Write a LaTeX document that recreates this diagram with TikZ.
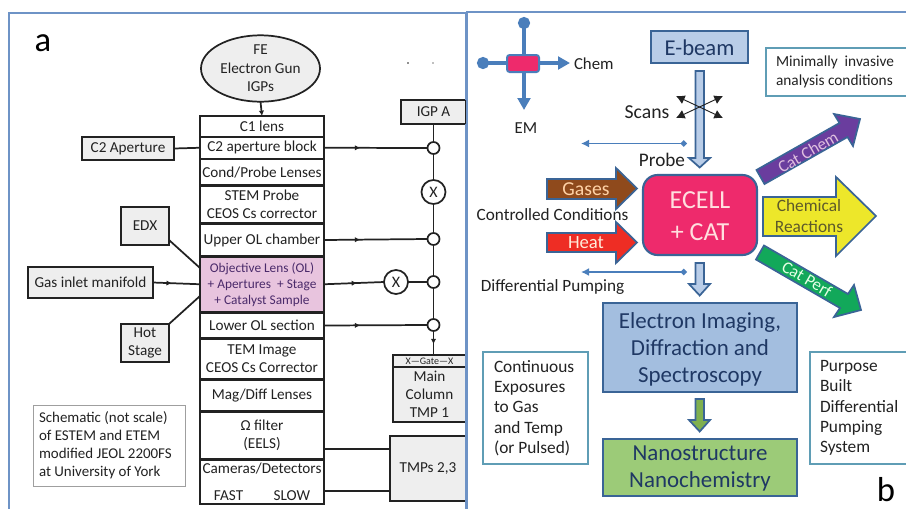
\documentclass[tikz,border=0pt]{standalone}
\usepackage{fontspec}
\setmainfont{Carlito}
\usetikzlibrary{arrows.meta,shapes.geometric,decorations.markings}
\definecolor{panelblue}{HTML}{6E93C6}
\definecolor{ink}{HTML}{222222}
\definecolor{boxgray}{HTML}{EEEEEE}
\definecolor{olpink}{HTML}{E8C4DE}
\definecolor{oltext}{HTML}{4A2A6A}
\definecolor{legblue}{HTML}{4A7EBB}
\definecolor{edgeblue}{HTML}{3A6496}
\definecolor{navy}{HTML}{1F3864}
\definecolor{cellpink}{HTML}{EE2A6C}
\definecolor{beamfill}{HTML}{B9CDE8}
\definecolor{imgfill}{HTML}{A3BEDF}
\definecolor{nanofill}{HTML}{9CCB78}
\definecolor{arrowgreen}{HTML}{7FB04F}
\definecolor{brownfill}{HTML}{8F4A1C}
\definecolor{redfill}{HTML}{EE2D24}
\definecolor{purplefill}{HTML}{6A3D9E}
\definecolor{yellowfill}{HTML}{EDE72A}
\definecolor{greenfill}{HTML}{12A85A}
\definecolor{notecol}{HTML}{5F9DB5}
\newcommand{\pxbox}[6]{\node[#1,minimum width={(#4-#2)*0.75pt},minimum height={(#5-#3)*0.75pt},anchor=north west] (#6) at (#2,#3)}
\newcommand{\pxnote}[7]{\node[#1,text width={(#4-#2-2*#7)*0.75pt},inner xsep={#7*0.75pt},minimum height={(#5-#3)*0.75pt},anchor=north west] (#6) at (#2,#3)}
\tikzset{
  x=0.75pt,y=-0.75pt,
  base/.style={inner sep=0pt,outer sep=0pt,align=center,text=ink,font=\fontsize{11.4}{13.6}\selectfont},
  stackbox/.style={base,draw=ink,line width=1.3pt,fill=white},
  greybox/.style={base,draw=ink,line width=1.3pt,fill=boxgray},
  olbox/.style={base,draw=ink,line width=1.9pt,fill=olpink,text=oltext,font=\fontsize{10}{12}\selectfont},
  wire/.style={draw=ink,line width=1.3pt},
  valve/.style={circle,draw=ink,line width=1.3pt,fill=white,minimum size=12*0.75pt,inner sep=0pt,outer sep=0pt},
  xvalve/.style={circle,draw=ink,line width=1.3pt,fill=white,minimum size=24*0.75pt,inner sep=0pt,outer sep=0pt,text=ink,font=\fontsize{12}{13}\selectfont},
  flowmark/.style={postaction={decorate},decoration={markings,mark=at position #1 with {\arrow{Latex[length=4pt,width=4pt]}}}},
  panel/.style={draw=panelblue,line width=1.2pt},
  plain/.style={inner sep=0pt,outer sep=0pt,text=ink,align=center,font=\fontsize{13}{15}\selectfont},
  legendline/.style={draw=legblue,line width=3pt},
  pumpline/.style={draw=legblue,line width=1.4pt},
  blockarrow/.style={draw=edgeblue,line width=1.3pt,line join=miter},
  notebox/.style={base,draw=notecol,line width=0.9pt,fill=white,align=flush left},
  mainbox/.style={base,draw=edgeblue,line width=1.5pt},
  maintext/.style={plain,text=navy,font=\fontsize{17.2}{20.5}\selectfont},
  scanline/.style={draw=ink,line width=0.7pt,{Latex[length=6.5pt,width=7pt]}-{Latex[length=6.5pt,width=7pt]}},
}
\begin{document}
\begin{tikzpicture}
\clip (0,0) rectangle (906,508);
\fill[white] (0,0) rectangle (906,508);
\node[plain,font=\fontsize{26}{28}\selectfont,text=black] (lblA) at (43,43) {a};
\node[plain,font=\fontsize{26}{28}\selectfont,text=black] (lblB) at (886,490) {b};
% ---- panel a
\node[ellipse,base,draw=ink,line width=1.3pt,fill=boxgray,minimum width=119*0.75pt,minimum height=55*0.75pt,font=\fontsize{11.4}{13.9}\selectfont] (gun) at (260.5,68.5) {FE\\Electron Gun\\IGPs};
\pxbox{stackbox}{200}{116}{324}{137}{cone}{C1 lens};
\pxbox{stackbox}{200}{137}{324}{158.5}{ctwo}{C2 aperture block};
\pxbox{stackbox}{200}{159.5}{324}{185}{cond}{Cond/Probe Lenses};
\pxbox{stackbox}{200}{186}{324}{223}{stem}{STEM Probe\\CEOS Cs corrector};
\pxbox{stackbox}{200}{224}{324}{256}{upper}{Upper OL chamber};
\pxbox{stackbox}{200}{313}{324}{338}{lower}{Lower OL section};
\pxbox{stackbox}{200}{339}{324}{378.5}{tem}{TEM Image\\CEOS Cs Corrector};
\pxbox{stackbox}{200}{380}{324}{411}{mag}{Mag/Diff Lenses};
\pxbox{stackbox}{200}{412}{324}{459}{omega}{Ω filter\\(EELS)};
\pxbox{stackbox}{200}{460}{324}{504}{cam}{Cameras/Detectors\\[7pt]FAST\hspace{2em}SLOW};
\pxbox{olbox}{200}{256.5}{324}{312}{ol}{Objective Lens (OL)\\+ Apertures\ \ + Stage\\+ Catalyst Sample};
\pxbox{greybox}{82}{137}{174}{160}{ctwoap}{C2 Aperture};
\pxbox{greybox}{121}{207}{169}{245}{edx}{EDX};
\pxbox{greybox}{28}{267}{153}{298}{gas}{Gas inlet manifold};
\pxbox{greybox}{121}{324}{169}{362}{hot}{Hot\\Stage};
\pxbox{greybox}{401}{100}{466}{124}{igp}{IGP A};
\pxbox{greybox}{393}{355}{466}{367}{gate}{\fontsize{7.5}{8}\selectfont X---Gate---X};
\pxbox{greybox}{393}{367}{466}{422}{tmpa}{Main\\Column\\TMP 1};
\pxbox{greybox}{390}{436}{466}{501}{tmpb}{TMPs 2,3};
\pxnote{base,align=flush left,draw=gray!75,line width=0.7pt,fill=white,font=\fontsize{11.2}{13.5}\selectfont}{33}{405}{185}{486}{note}{6}{Schematic (not scale)\\of ESTEM and ETEM\\modified JEOL 2200FS\\at University of York};
\node[valve] (va) at (433.5,148) {};
\node[xvalve] (vx) at (433.5,192) {X};
\node[valve] (vb) at (433.5,239) {};
\node[valve] (vc) at (433.5,282) {};
\node[valve] (vd) at (433.5,325) {};
\node[xvalve] (vy) at (396,282) {X};
\draw[wire,-{Latex[length=4pt,width=4pt]}] (gun.south) -- (cone.north);
\draw[wire] (ctwoap.east) -- (ctwo.west);
\draw[wire] (igp.south -| va) -- (va.north);
\draw[wire] (va.south) -- (vx.north);
\draw[wire] (vx.south) -- (vb.north);
\draw[wire] (vb.south) -- (vc.north);
\draw[wire] (vc.south) -- (vd.north);
\draw[wire,flowmark=0.55] (vd.south) -- (gate.north -| vd);
\draw[wire,flowmark=0.35] (ctwo.east) -- (va.west);
\draw[wire,flowmark=0.35] (upper.east) -- (vb.west);
\draw[wire,flowmark=0.55] (ol.east) -- (vy.west);
\draw[wire] (vy.east) -- (vc.west);
\draw[wire,flowmark=0.35] (lower.east) -- (vd.west);
\draw[wire,flowmark=0.4] (gas.east) -- (ol.west);
\coordinate (edxa) at (169,240);
\coordinate (ola) at (200,268);
\coordinate (olb) at (200,296);
\draw[wire] (edxa) -- (ola);
\draw[wire] (hot.north east) -- (olb);
\coordinate (omegaout) at (324,449);
\coordinate (camout) at (324,491);
\draw[wire] (omegaout) -- (tmpb.west |- omegaout);
\draw[wire] (camout) -- (tmpb.west |- camout);
\fill[ink] (408,63) circle (0.8);
\fill[gray] (433,63) circle (0.8);
% panels
\draw[panel] (9,520) -- (9,13) -- (466,13) -- (466,100);
\draw[panel] (466,124) -- (466,520);
\draw[panel] (467,520) -- (467,12) -- (910,12);
% ---- panel b legend
\coordinate (legT) at (524,17);
\coordinate (legL) at (477,63);
\coordinate (legB) at (524,110);
\coordinate (legR) at (570,63);
\draw[legendline,{Circle[length=9pt,width=9pt]}-{Triangle[length=9pt,width=9.5pt]}] (legT) -- (legB);
\draw[legendline,{Circle[length=9pt,width=9pt]}-{Triangle[length=9pt,width=9.5pt]}] (legL) -- (legR);
\pxbox{base,draw=legblue,line width=1.5pt,fill=cellpink,rounded corners=2pt}{507}{55}{539}{72}{reactor}{};
\node[plain,anchor=west,font=\fontsize{12.6}{14}\selectfont] (chem) at (574,63.5) {Chem};
\node[plain,font=\fontsize{12.6}{14}\selectfont] (em) at (526,128) {EM};
% beam
\pxbox{mainbox,line width=1.6pt,fill=beamfill}{651}{31}{748}{63}{ebeam}{};
\node[maintext,font=\fontsize{17}{21}\selectfont] (ebeamtext) at (699.5,48) {E-beam};
\draw[blockarrow,fill=beamfill] (695.5,71) -- (704,71) -- (704,158) -- (710,158) -- (699.7,167.5) -- (689,158) -- (695.5,158) -- cycle;
\coordinate (sa) at (676,96); \coordinate (sb) at (723,118); \coordinate (sc) at (676,118); \coordinate (sd) at (723,96);
\draw[scanline] (sa) -- (sb);
\draw[scanline] (sc) -- (sd);
\node[plain,font=\fontsize{14.8}{16}\selectfont] (scans) at (647,112) {Scans};
\node[plain,font=\fontsize{14.4}{16}\selectfont] (probe) at (662,160) {Probe};
\coordinate (pa) at (581,143.5); \coordinate (pb) at (687,143.5);
\draw[pumpline,{Latex[length=6pt,width=6pt]}-{Diamond[length=5pt,width=5pt]}] (pa) -- (pb);
\coordinate (pc) at (581,272); \coordinate (pd) at (687,272);
\draw[pumpline,{Latex[length=6pt,width=6pt]}-{Diamond[length=5pt,width=5pt]}] (pc) -- (pd);
% side inputs
\draw[blockarrow,fill=brownfill] (547,179) -- (616,179) -- (616,168) -- (637,188.5) -- (616,209) -- (616,199) -- (547,199) -- cycle;
\node[plain,text=orange!35!white,font=\fontsize{14.8}{16}\selectfont] (gases) at (586,189) {Gases};
\draw[blockarrow,fill=redfill] (547,233) -- (616,233) -- (616,222) -- (637,242.5) -- (616,263) -- (616,252) -- (547,252) -- cycle;
\node[plain,text=orange!15!white,font=\fontsize{14}{16}\selectfont] (heat) at (586,243) {Heat};
\node[plain,font=\fontsize{12.9}{14}\selectfont] (cond2) at (552.5,215) {Controlled Conditions};
\node[plain,font=\fontsize{12.9}{14}\selectfont] (diff) at (552.5,287) {Differential Pumping};
% output arrows
\draw[blockarrow,fill=purplefill] (756.5,170) -- (839.5,123) -- (834,114) -- (860,119) -- (853,146) -- (847.5,137) -- (764.5,184) -- cycle;
\node[plain,rotate=30,text=violet!25!white,font=\fontsize{12.7}{14}\selectfont] (catchem) at (808,152) {Cat Chem};
\draw[blockarrow,fill=yellowfill] (763,197) -- (836,197) -- (836,177) -- (876,216) -- (836,256) -- (836,236) -- (763,236) -- cycle;
\node[plain,text=olive!55!black,font=\fontsize{13}{15.2}\selectfont] (chemr) at (809,216) {Chemical\\Reactions};
\draw[blockarrow,fill=greenfill] (764,245.5) -- (848,294) -- (854,285) -- (861,310) -- (834,317) -- (840,308) -- (756,259.5) -- cycle;
\node[plain,rotate=-30,text=green!10!white,font=\fontsize{12.7}{14}\selectfont] (catperf) at (807,279) {Cat Perf};
% core
\pxbox{mainbox,line width=1.6pt,fill=cellpink,rounded corners=11pt}{643}{175}{757}{255}{ecell}{};
\node[plain,text=pink!50!white,font=\fontsize{19.5}{23.5}\selectfont] (ecelltext) at (700,216) {ECELL\\+ CAT};
\draw[blockarrow,fill=beamfill] (695.5,263) -- (704,263) -- (704,284) -- (710,284) -- (699.7,295.5) -- (689,284) -- (695.5,284) -- cycle;
\pxbox{mainbox,fill=imgfill}{603}{303}{797}{392}{imaging}{};
\node[maintext] (imagingtext) at (700,349.5) {Electron Imaging,\\Diffraction and\\Spectroscopy};
\draw[blockarrow,fill=arrowgreen] (695.5,399) -- (704,399) -- (704,420) -- (710,420) -- (699.7,431.5) -- (689,420) -- (695.5,420) -- cycle;
\pxbox{mainbox,fill=nanofill}{603}{439}{797}{496}{nano}{};
\node[maintext] (nanotext) at (700,468.5) {Nanostructure\\Nanochemistry};
% notes
\pxnote{notebox,font=\fontsize{13}{15.2}\selectfont}{483}{352}{588}{464}{noteL}{11}{Continuous\\Exposures\\to Gas\\and Temp\\(or Pulsed)};
\pxnote{notebox,font=\fontsize{13}{15.2}\selectfont}{810}{352}{915}{464}{noteR}{10}{Purpose\\Built\\Differential\\Pumping\\System};
\pxnote{notebox,font=\fontsize{11.5}{14}\selectfont}{766}{48}{915}{96}{noteT}{10}{Minimally\ \ invasive\\analysis conditions};
\end{tikzpicture}
\end{document}
